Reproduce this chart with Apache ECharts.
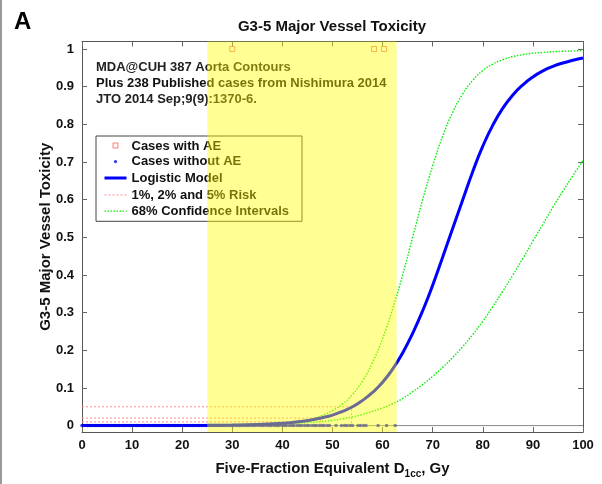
<!DOCTYPE html>
<html>
<head>
<meta charset="utf-8">
<script src="https://cdn.jsdelivr.net/npm/echarts@6/dist/echarts.min.js"></script>
<style>
  html, body { margin: 0; padding: 0; background: #fff; }
  #chart { width: 602px; height: 484px; }
</style>
</head>
<body>
<div id="chart"></div>
<script>
// Dose grid (Gy) on which the model curves are tabulated
const doses = [0, 5, 10, 15, 20, 25, 30, 35, 40, 42, 44, 46, 48, 50, 52, 54, 56, 58, 60, 62, 64, 66, 68, 70,
  72, 74, 76, 78, 80, 82, 84, 86, 88, 90, 92, 94, 96, 98, 100];

// Logistic model: probability of G3-5 major vessel toxicity
const logisticModel = [0, 0, 0.0001, 0.0002, 0.0003, 0.0006, 0.0014, 0.003, 0.0063, 0.0085, 0.0115, 0.0155, 0.021,
  0.028, 0.038, 0.050, 0.067, 0.088, 0.115, 0.150, 0.193, 0.245, 0.305, 0.373, 0.448, 0.524, 0.600, 0.675,
  0.742, 0.798, 0.843, 0.878, 0.905, 0.926, 0.942, 0.954, 0.963, 0.970, 0.976];

// 68% confidence band, upper and lower limits
const ciUpper = [0, 0, 0, 0, 0.0001, 0.0003, 0.0007, 0.002, 0.0055, 0.008, 0.012, 0.018, 0.027, 0.040, 0.057,
  0.083, 0.119, 0.168, 0.231, 0.31, 0.40, 0.50, 0.60, 0.69, 0.769, 0.832, 0.881, 0.917, 0.943, 0.960, 0.972,
  0.980, 0.985, 0.989, 0.991, 0.993, 0.994, 0.995, 0.996];
const ciLower = [0.0001, 0.0002, 0.0004, 0.0007, 0.0011, 0.0017, 0.0025, 0.0035, 0.005, 0.006, 0.0075, 0.009,
  0.011, 0.014, 0.018, 0.023, 0.030, 0.038, 0.047, 0.058, 0.072, 0.090, 0.109, 0.131, 0.155, 0.181, 0.210,
  0.242, 0.277, 0.316, 0.357, 0.400, 0.444, 0.490, 0.535, 0.580, 0.623, 0.664, 0.703];

// Risk levels (1%, 2%, 5%) and the doses where the model reaches them
const riskLevels = [0.01, 0.02, 0.05];
const riskDoses = [43.4, 47.6, 53.8];

// Observed cases: doses with an adverse event (plotted at 1) and without (plotted at 0)
const casesWithAE = [30.0, 58.3, 60.3];
const casesWithoutAE = [0, 0.3, 0.8, 1.1, 1.5, 1.8, 2.2, 2.7, 3.0, 3.4, 3.9, 4.2, 4.6, 5.1, 5.4, 5.9, 6.3, 6.7,
  7.2, 7.5, 8.1, 8.4, 8.9, 9.4, 9.7, 10.3, 10.8, 11.1, 11.6, 12.2, 12.5, 13.1, 13.4, 14.0, 14.5, 14.8, 15.4,
  15.9, 16.2, 16.8, 17.3, 17.6, 18.2, 18.7, 19.1, 19.6, 20.2, 20.5, 21.1, 21.6, 22.0, 22.5, 23.1, 23.4, 23.9,
  24.5, 24.9, 25.4, 25.8, 26.4, 26.9, 27.3, 27.9, 28.4, 28.8, 29.4, 29.9, 30.3, 30.9, 31.4, 31.8, 32.4, 32.9,
  33.3, 33.9, 34.4, 34.8, 35.4, 35.9, 36.3, 36.9, 37.4, 37.8, 38.4, 38.9, 39.3, 39.9, 40.4, 40.8, 41.4, 41.9,
  42.3, 42.9, 43.4, 43.8, 44.4, 44.9, 45.3, 45.9, 46.4, 46.8, 47.4, 47.9, 48.3, 48.9, 49.4, 50.7, 51.8, 52.4,
  52.9, 53.5, 54.0, 55.1, 55.6, 56.2, 56.7, 59.1, 60.8, 62.5];

// Highlighted dose range (Gy)
const bandRange = [25, 62.8];

// Axis ticks
const xTicks = [0, 10, 20, 30, 40, 50, 60, 70, 80, 90, 100];
const yTicks = [0, 0.1, 0.2, 0.3, 0.4, 0.5, 0.6, 0.7, 0.8, 0.9, 1];

const yMin = -0.017, yMax = 1.02;
const FONT = 'Liberation Sans, Arial, Helvetica, sans-serif';

const pairs = (xs, ys) => xs.map((x, i) => [x, ys[i]]);

const axisLineStyle = { color: '#555', width: 1 };
const tickStyle = { color: '#666', width: 1 };

// Colours and dash patterns shared by the series and their legend icons
const BLUE = '#0000ff', GREEN = '#00ee00', PINK = '#ff8a8a', RED = '#ff5a5a';
const LINE_ICON = 'path://M0,0M22,13M0,6.5L22,6.5';

const riskSeries = riskLevels.map((r, i) => ({
  type: 'line',
  name: '1%, 2% and 5% Risk',
  symbol: 'none',
  z: 3,
  lineStyle: { color: PINK, width: 1, type: [2, 2] },
  data: [[0, r], [riskDoses[i], r], [riskDoses[i], 0]]
}));

const option = {
  animation: false,
  backgroundColor: '#fff',
  title: {
    text: 'G3-5 Major Vessel Toxicity',
    left: 332, top: 19, textAlign: 'center', padding: 0,
    textStyle: { fontFamily: FONT, fontSize: 15, fontWeight: 'bold', color: '#111' }
  },
  graphic: [
    { type: 'line', z: 1, shape: { x1: 1, y1: 0, x2: 1, y2: 484 }, style: { stroke: '#9a9a9a', lineWidth: 2 } },
    { type: 'text', z: 5, left: 14, top: 10,
      style: { text: 'A', font: 'bold 24px ' + FONT, fill: '#000' } },
    { type: 'text', z: 5, x: 96, y: 67,
      style: { text: 'MDA@CUH 387 Aorta Contours', font: 'bold 13px ' + FONT, fill: '#222', verticalAlign: 'middle' } },
    { type: 'text', z: 5, x: 96, y: 83,
      style: { text: 'Plus 238 Published cases from Nishimura 2014', font: 'bold 13px ' + FONT, fill: '#111', verticalAlign: 'middle' } },
    { type: 'text', z: 5, x: 96, y: 99,
      style: { text: 'JTO 2014 Sep;9(9):1370-6.', font: 'bold 13px ' + FONT, fill: '#222', verticalAlign: 'middle' } }
  ],
  legend: {
    orient: 'vertical',
    left: 96, top: 136,
    padding: [3, 13, 3, 7],
    itemGap: 2,
    itemWidth: 22,
    itemHeight: 13,
    itemTextGap: 14,
    backgroundColor: '#fff',
    borderColor: '#444',
    borderWidth: 1,
    borderRadius: 0,
    selectedMode: false,
    textStyle: { fontFamily: FONT, fontSize: 13, fontWeight: 'bold', color: '#111' },
    data: [
      { name: 'Cases with AE', icon: 'path://M0,0M22,13M8.5,3.5h5v5h-5z',
        itemStyle: { color: 'transparent', borderColor: RED, borderWidth: 1 } },
      { name: 'Cases without AE', icon: 'path://M0,0M22,13M11,5a1.6,1.6,0,1,1,0,3.2a1.6,1.6,0,1,1,0,-3.2z',
        itemStyle: { color: '#0000ee', borderWidth: 0 } },
      { name: 'Logistic Model', icon: LINE_ICON,
        itemStyle: { color: 'transparent', borderColor: BLUE, borderWidth: 3 } },
      { name: '1%, 2% and 5% Risk', icon: LINE_ICON,
        itemStyle: { color: 'transparent', borderColor: PINK, borderWidth: 1, borderType: [2, 2] } },
      { name: '68% Confidence Intervals', icon: LINE_ICON,
        itemStyle: { color: 'transparent', borderColor: GREEN, borderWidth: 1.3, borderType: [1.5, 1.5] } }
    ]
  },
  grid: { left: 82, right: 19, top: 41.5, bottom: 45.5, containLabel: false },
  xAxis: [
    {
      type: 'value', position: 'bottom', min: 0, max: 100, interval: 10,
      axisLine: { show: true, onZero: false, lineStyle: axisLineStyle },
      axisTick: { show: true, inside: true, length: 5, lineStyle: tickStyle },
      axisLabel: { margin: 7, fontFamily: FONT, fontSize: 13, fontWeight: 'bold', color: '#111' },
      splitLine: { show: false },
      name: 'Five-Fraction Equivalent D{sub|1cc}, Gy',
      nameLocation: 'middle', nameGap: 27, nameMoveOverlap: false,
      nameTextStyle: {
        fontFamily: FONT, fontSize: 15, fontWeight: 'bold', color: '#111', lineHeight: 20,
        rich: { sub: { fontFamily: FONT, fontSize: 10, fontWeight: 'bold', color: '#111', lineHeight: 20, verticalAlign: 'bottom' } }
      }
    },
    {
      type: 'value', position: 'top', min: 0, max: 100, interval: 10,
      axisLine: { show: true, onZero: false, lineStyle: axisLineStyle },
      axisTick: { show: true, inside: true, length: 5, lineStyle: tickStyle },
      axisLabel: { show: false }, splitLine: { show: false }
    }
  ],
  yAxis: [
    {
      type: 'value', position: 'left', min: yMin, max: yMax,
      axisLine: { show: true, onZero: false, lineStyle: axisLineStyle },
      axisTick: { show: true, inside: true, length: 5, lineStyle: tickStyle, customValues: yTicks },
      axisLabel: {
        margin: 8, fontFamily: FONT, fontSize: 13, fontWeight: 'bold', color: '#111',
        customValues: yTicks,
        formatter: v => String(Math.round(v * 10) / 10)
      },
      splitLine: { show: false },
      name: 'G3-5 Major Vessel Toxicity',
      nameLocation: 'middle', nameGap: 29, nameRotate: 90, nameMoveOverlap: false,
      nameTextStyle: { fontFamily: FONT, fontSize: 15, fontWeight: 'bold', color: '#111' }
    },
    {
      type: 'value', position: 'right', min: yMin, max: yMax,
      axisLine: { show: true, onZero: false, lineStyle: axisLineStyle },
      axisTick: { show: true, inside: true, length: 5, lineStyle: tickStyle, customValues: yTicks },
      axisLabel: { show: false }, splitLine: { show: false }
    }
  ],
  series: [
    {
      type: 'line', name: 'zero', symbol: 'none', z: 2, silent: true,
      lineStyle: { color: '#8a8a8a', width: 1 },
      data: [[0, 0], [100, 0]]
    },
    ...riskSeries,
    {
      type: 'line', name: '68% Confidence Intervals', symbol: 'none', smooth: true, z: 4,
      lineStyle: { color: GREEN, width: 1.4, type: [1.5, 1.5] },
      data: pairs(doses, ciUpper)
    },
    {
      type: 'line', name: '68% Confidence Intervals', symbol: 'none', smooth: true, z: 4,
      lineStyle: { color: GREEN, width: 1.4, type: [1.5, 1.5] },
      data: pairs(doses, ciLower)
    },
    {
      type: 'line', name: 'Logistic Model', symbol: 'none', smooth: true, z: 5,
      lineStyle: { color: BLUE, width: 3 },
      data: pairs(doses, logisticModel)
    },
    {
      type: 'scatter', name: 'Cases without AE', symbol: 'circle', symbolSize: 3.5, z: 6,
      itemStyle: { color: '#0000ee' },
      data: casesWithoutAE.map(d => [d, 0])
    },
    {
      type: 'scatter', name: 'Cases with AE', symbol: 'rect', symbolSize: 5, z: 6,
      itemStyle: { color: 'transparent', borderColor: RED, borderWidth: 1 },
      data: casesWithAE.map(d => [d, 1])
    },
    {
      type: 'custom', name: 'band', z: 10, silent: true,
      encode: { x: [0, 1] },
      data: [bandRange],
      renderItem: (params, api) => {
        const p0 = api.coord([api.value(0), yMax]);
        const p1 = api.coord([api.value(1), yMin]);
        return {
          type: 'rect', z2: 100,
          shape: { x: p0[0], y: p0[1], width: p1[0] - p0[0], height: p1[1] - p0[1] },
          style: { fill: 'rgba(255,255,0,0.42)' }
        };
      }
    }
  ]
};

const chart = echarts.init(document.getElementById('chart'), null, { renderer: 'canvas' });
chart.setOption(option);
</script>
</body>
</html>
